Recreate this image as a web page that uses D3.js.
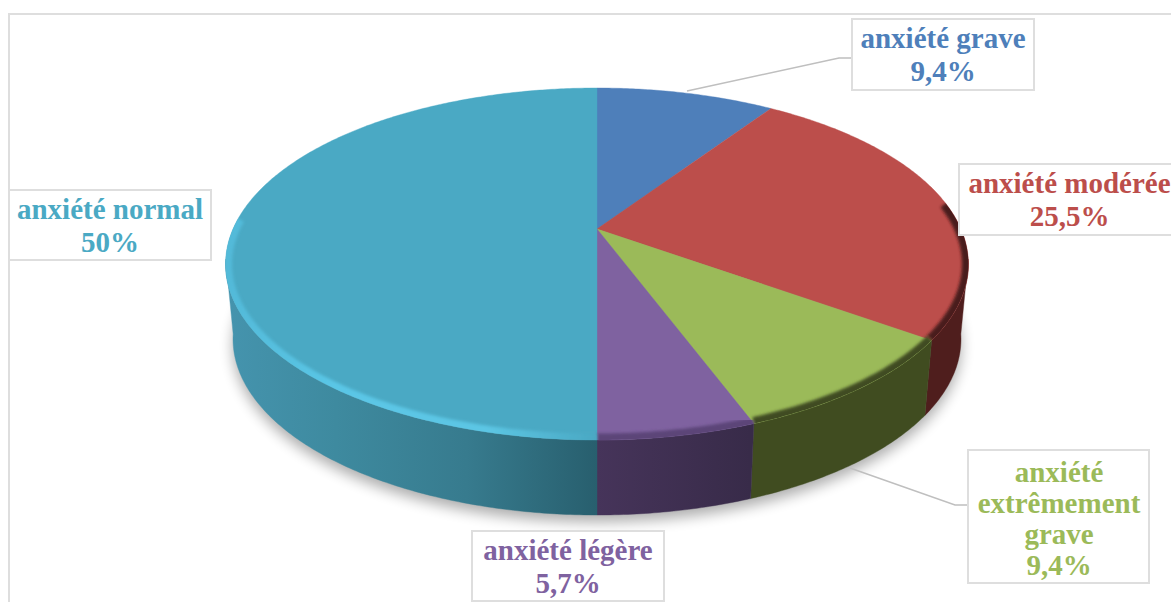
<!DOCTYPE html>
<html><head><meta charset="utf-8">
<script src="https://cdn.jsdelivr.net/npm/d3@7/dist/d3.min.js"></script>
<style>html,body{margin:0;padding:0;background:#fff;overflow:hidden}svg{display:block}</style>
</head><body><svg id="c" width="1171" height="602"></svg>
<script>
const categories = ["anxiété grave","anxiété modérée","anxiété extrêmement grave","anxiété légère","anxiété normal"];
const values = [9.4,25.5,9.4,5.7,50];
const valueLabels = ["9,4%","25,5%","9,4%","5,7%","50%"];
const labelLines = [["anxiété grave"],["anxiété modérée"],["anxiété","extrêmement","grave"],["anxiété légère"],["anxiété normal"]];
const topColors = ["#4e7fba","#bc4e4b","#9bba59","#7f62a0","#4aa9c4"];
const rimColors = [null,"#4a1c1b","#3f4c20","#5b4478","url(#rimTeal)"];
const wallColors = ["#2f4c70","#4f1e1d","#404c20","url(#wallPurple)","url(#wallTeal)"];
const boxes = [[852,19,182,71],[959,164,240,71],[968,450,181,133],[472,531,192,70],[9,190,202,70]];
const textCenters = [943,1069.5,1059,568,110];
const leaders = [[[687,91],[839,58],[852,58]],[[850,468],[955,505],[968,505]]];

const svg = d3.select("#c");
const defs = svg.append("defs");
const addGrad=(id,stops)=>{const g=defs.append("linearGradient").attr("id",id).attr("gradientUnits","userSpaceOnUse")
  .attr("x1",224).attr("x2",597).attr("y1",0).attr("y2",0);
  stops.forEach(s=>g.append("stop").attr("offset",s[0]).attr("stop-color",s[1]));};
addGrad("wallTeal",[[0,"#4594ae"],[.3,"#3e8a9f"],[.65,"#377b8e"],[1,"#285f6e"]]);
addGrad("rimTeal",[[0,"#52b9d8"],[.3,"#5ac6e6"],[.7,"#5cc6e4"],[1,"#4aa8c3"]]);
defs.append("linearGradient").attr("id","wallPurple").attr("gradientUnits","userSpaceOnUse")
  .attr("x1",597).attr("x2",750).attr("y1",0).attr("y2",0)
  .call(g=>{g.append("stop").attr("offset",0).attr("stop-color","#46345a");g.append("stop").attr("offset",1).attr("stop-color","#382b49");});
defs.append("filter").attr("id","shadow").attr("x","-20%").attr("y","-20%").attr("width","140%").attr("height","140%")
  .append("feGaussianBlur").attr("stdDeviation",7);
defs.append("filter").attr("id","soft").attr("x","-20%").attr("y","-20%").attr("width","140%").attr("height","140%")
  .append("feGaussianBlur").attr("stdDeviation",1.6);

// perspective projection of the pie disc
const cx=597, cy=229, K=364, A=123.5, C=-0.1989, depth=75, shrink=0.98;
const project=t=>{const u=Math.sin(t), v=-Math.cos(t), w=1+C*v; return [cx+K*u/w,(A*v+cy)/w];};
const lower=t=>{const p=project(t); return [cx+shrink*(p[0]-cx),p[1]+depth];};
const arcAngles=(a,b)=>{const n=Math.max(2,Math.ceil((b-a)/0.01)); return d3.range(n+1).map(i=>a+(b-a)*i/n);};
const line=d3.line();
const arcs=d3.pie().value(d=>d).sort(null)(values);
const full=arcAngles(0,2*Math.PI);

// frame
svg.append("path").attr("d",line([[9,602],[9,14],[1171,14]])).attr("fill","none").attr("stroke","#dedede").attr("stroke-width",2);

// shadow
svg.append("path").attr("d",line(full.map(lower).map(p=>[p[0],p[1]+7]))+"Z").attr("fill","#000").attr("opacity",.32).attr("filter","url(#shadow)");

// walls: only the front part of the rim, between the two horizontal extremes
const wallFrom=Math.PI*0.555, wallTo=Math.PI*1.445;
arcs.forEach((s,i)=>{
  const a=Math.max(s.startAngle,wallFrom), b=Math.min(s.endAngle,wallTo);
  if(b<=a) return;
  const ang=arcAngles(a,b);
  svg.append("path").attr("d",line(ang.map(project).concat(ang.slice().reverse().map(lower)))+"Z")
    .attr("fill",wallColors[i]).attr("stroke",wallColors[i]).attr("stroke-width",.4);
});

// top faces
arcs.forEach((s,i)=>{
  const ang=arcAngles(s.startAngle,s.endAngle);
  svg.append("path").attr("d",line([[cx,cy]].concat(ang.map(project)))+"Z").attr("fill",topColors[i]).attr("stroke",topColors[i]).attr("stroke-width",.4);
});

// bevel rim along the front edge
defs.append("clipPath").attr("id","topClip").append("path").attr("d",line(full.map(project))+"Z");
const rimG=svg.append("g").attr("clip-path","url(#topClip)");
const rimFrom=Math.PI*0.45, rimTo=Math.PI*1.52;
arcs.forEach((s,i)=>{
  if(!rimColors[i]) return;
  const a=Math.max(s.startAngle,rimFrom), b=Math.min(s.endAngle,rimTo);
  if(b<=a) return;
  rimG.append("path").attr("d",line(arcAngles(a,b).map(project))).attr("fill","none")
    .attr("stroke",rimColors[i]).attr("stroke-width",13).attr("filter","url(#soft)");
});

// leaders
leaders.forEach(l=>svg.append("path").attr("d",line(l)).attr("fill","none").attr("stroke","#bfbfbf").attr("stroke-width",1.5));

// labels
const font="'Liberation Serif',serif";
categories.forEach((c,i)=>{
  const b=boxes[i];
  svg.append("rect").attr("x",b[0]).attr("y",b[1]).attr("width",b[2]).attr("height",b[3])
    .attr("fill","#fff").attr("stroke","#dedede").attr("stroke-width",2);
  const rows=labelLines[i].concat([valueLabels[i]]);
  const lh=i===2?31:33;
  const t=svg.append("text").attr("font-family",font).attr("font-weight","bold").attr("font-size",29)
    .attr("fill",topColors[i]).attr("text-anchor","middle");
  rows.forEach((r,j)=>t.append("tspan").attr("x",textCenters[i]).attr("y",b[1]+(i===2?32:29)+j*lh).text(r));
});
</script></body></html>
